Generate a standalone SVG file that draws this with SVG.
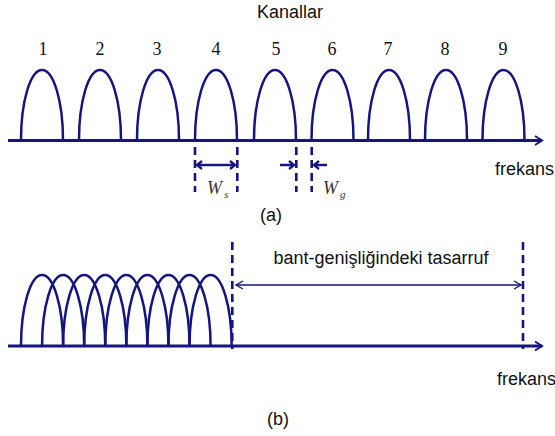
<svg xmlns="http://www.w3.org/2000/svg" width="555" height="436" viewBox="0 0 555 436">
<style>
.arch{fill:none;stroke:#15157f;stroke-width:2.5}
.axis{fill:none;stroke:#15157f;stroke-width:3}
.dash{fill:none;stroke:#15157f;stroke-width:2.6;stroke-dasharray:8 5}
.dim{fill:none;stroke:#15157f;stroke-width:2.5}
.thin{fill:none;stroke:#15157f;stroke-width:1.4}
.sans{font-family:"Liberation Sans",Arial,sans-serif;font-size:18px;fill:#111}
.num{font-family:"Liberation Serif","Times New Roman",serif;font-size:18px;fill:#111;text-anchor:middle}
.it{font-family:"Liberation Serif","Times New Roman",serif;font-style:italic;fill:#333}
</style>
<defs>
<marker id="ax" markerUnits="userSpaceOnUse" markerWidth="12" markerHeight="12" refX="8" refY="6" orient="auto" overflow="visible">
<path d="M1,1.5 L8,6 L1,10.5" fill="none" stroke="#15157f" stroke-width="2"/>
</marker>
<marker id="dm" markerUnits="userSpaceOnUse" markerWidth="10" markerHeight="10" refX="6" refY="5" orient="auto-start-reverse" overflow="visible">
<path d="M1,1 L6,5 L1,9" fill="none" stroke="#15157f" stroke-width="2.3"/>
</marker>
<marker id="tn" markerUnits="userSpaceOnUse" markerWidth="10" markerHeight="10" refX="7" refY="5" orient="auto-start-reverse" overflow="visible">
<path d="M0,1 L7,5 L0,9" fill="none" stroke="#15157f" stroke-width="1.4"/>
</marker>
</defs>
<g id="title"><text class="sans" x="290" y="18" text-anchor="middle">Kanallar</text></g>
<g id="channels-a">
<g id="ch1"><path class="arch" d="M21,140 A21 70 0 0 1 63,140"/><text class="num" x="43" y="55">1</text></g>
<g id="ch2"><path class="arch" d="M79,140 A21 70 0 0 1 121,140"/><text class="num" x="100" y="55">2</text></g>
<g id="ch3"><path class="arch" d="M137,140 A21 70 0 0 1 179,140"/><text class="num" x="157" y="55">3</text></g>
<g id="ch4"><path class="arch" d="M195,140 A21 70 0 0 1 237,140"/><text class="num" x="216" y="55">4</text></g>
<g id="ch5"><path class="arch" d="M254,140 A21 70 0 0 1 296,140"/><text class="num" x="276" y="55">5</text></g>
<g id="ch6"><path class="arch" d="M311.5,140 A21 70 0 0 1 353.5,140"/><text class="num" x="332" y="55">6</text></g>
<g id="ch7"><path class="arch" d="M368,140 A21 70 0 0 1 410,140"/><text class="num" x="388" y="55">7</text></g>
<g id="ch8"><path class="arch" d="M425,140 A21 70 0 0 1 467,140"/><text class="num" x="445" y="55">8</text></g>
<g id="ch9"><path class="arch" d="M482.5,140 A21 70 0 0 1 524.5,140"/><text class="num" x="503" y="55">9</text></g>
</g>
<g id="channels-b">
<path class="arch" d="M21,346 A21.05 71 0 0 1 63.1,346"/>
<path class="arch" d="M42.07,346 A21.05 71 0 0 1 84.17,346"/>
<path class="arch" d="M63.14,346 A21.05 71 0 0 1 105.24,346"/>
<path class="arch" d="M84.21,346 A21.05 71 0 0 1 126.31,346"/>
<path class="arch" d="M105.28,346 A21.05 71 0 0 1 147.38,346"/>
<path class="arch" d="M126.35,346 A21.05 71 0 0 1 168.45,346"/>
<path class="arch" d="M147.42,346 A21.05 71 0 0 1 189.52,346"/>
<path class="arch" d="M168.49,346 A21.05 71 0 0 1 210.59,346"/>
<path class="arch" d="M189.56,346 A21.05 71 0 0 1 231.66,346"/>
</g>
<g id="connectors">
<line class="axis" x1="8" y1="140.5" x2="542" y2="140.5" marker-end="url(#ax)"/>
<line class="axis" x1="8" y1="346" x2="542" y2="346" marker-end="url(#ax)"/>
<line class="dash" x1="195" y1="147" x2="195" y2="192"/>
<line class="dash" x1="237.3" y1="147" x2="237.3" y2="192"/>
<line class="dim" x1="197" y1="165" x2="235" y2="165" marker-start="url(#dm)" marker-end="url(#dm)"/>
<line class="dash" x1="296.3" y1="147" x2="296.3" y2="192"/>
<line class="dash" x1="311.7" y1="147" x2="311.7" y2="192"/>
<line class="dim" x1="280" y1="165" x2="294" y2="165" marker-end="url(#dm)"/>
<line class="dim" x1="327" y1="165" x2="314" y2="165" marker-end="url(#dm)"/>
<line class="dash" x1="232.3" y1="242" x2="232.3" y2="349"/>
<line class="dash" x1="523" y1="242" x2="523" y2="349"/>
<line class="thin" x1="236" y1="285" x2="521" y2="285" marker-start="url(#tn)" marker-end="url(#tn)"/>
</g>
<g id="labels">
<text class="sans" x="495" y="175">frekans</text>
<text class="sans" x="497" y="385">frekans</text>
<text class="sans" x="271" y="221" text-anchor="middle">(a)</text>
<text class="sans" x="278" y="425" text-anchor="middle">(b)</text>
<text class="sans" x="381" y="264" text-anchor="middle">bant-genişliğindeki tasarruf</text>
<text class="it" x="207" y="194" font-size="18">W<tspan font-size="11" x="224" y="198">s</tspan></text>
<text class="it" x="323" y="194" font-size="18">W<tspan font-size="11" x="340" y="198">g</tspan></text>
</g>
</svg>
